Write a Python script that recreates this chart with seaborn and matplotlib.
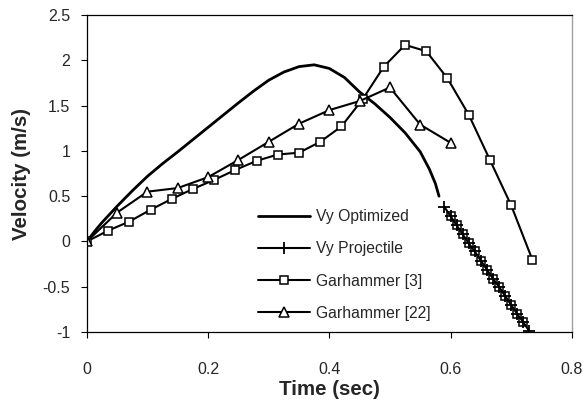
import numpy as np
import pandas as pd
import matplotlib
matplotlib.use('Agg')
import matplotlib.pyplot as plt
import seaborn as sns

# ---- data ----
t_opt = [0, 0.0125, 0.025, 0.0375, 0.05, 0.075, 0.1, 0.125, 0.15, 0.2, 0.25, 0.275,
         0.3, 0.325, 0.35, 0.375, 0.4, 0.425, 0.45, 0.475, 0.5, 0.525, 0.55,
         0.565, 0.575, 0.581]
v_opt = [0, 0.11, 0.21, 0.30, 0.39, 0.56, 0.72, 0.86, 0.99, 1.26, 1.53, 1.66,
         1.78, 1.87, 1.93, 1.95, 1.91, 1.81, 1.65, 1.52, 1.37, 1.20, 0.99,
         0.80, 0.64, 0.50]

t_proj = [0.59, 0.60, 0.61, 0.62, 0.63, 0.64, 0.65, 0.66, 0.67, 0.68, 0.69,
          0.70, 0.71, 0.72, 0.73]
v_proj = [0.38, 0.28, 0.18, 0.08, -0.02, -0.11, -0.21, -0.31, -0.41, -0.50,
          -0.60, -0.70, -0.80, -0.89, -0.99]

t_g3 = [0, 0.035, 0.07, 0.105, 0.14, 0.175, 0.21, 0.245, 0.28, 0.315, 0.35,
        0.385, 0.42, 0.455, 0.49, 0.525, 0.56, 0.595, 0.63, 0.665, 0.70, 0.735]
v_g3 = [0, 0.12, 0.22, 0.35, 0.47, 0.58, 0.68, 0.79, 0.89, 0.96, 0.98,
        1.10, 1.27, 1.57, 1.93, 2.17, 2.10, 1.80, 1.40, 0.90, 0.40, -0.20]

t_g22 = [0, 0.05, 0.1, 0.15, 0.2, 0.25, 0.3, 0.35, 0.4, 0.45, 0.5, 0.55, 0.6]
v_g22 = [0, 0.32, 0.55, 0.59, 0.71, 0.90, 1.10, 1.30, 1.45, 1.55, 1.70, 1.29, 1.09]

sns.set_style('white')
plt.rcParams['font.family'] = ['Liberation Sans', 'DejaVu Sans']

fig = plt.figure(figsize=(5.87, 4.05), dpi=100)
ax = fig.add_axes([0.148, 0.180, 0.826, 0.783])

kw = dict(ax=ax, sort=False, estimator=None, color='black')
sns.lineplot(x=t_opt, y=v_opt, linewidth=2.0, label='Vy Optimized', **kw)
sns.lineplot(x=t_proj, y=v_proj, linewidth=1.5, marker='+', markersize=9,
             markeredgewidth=1.3, markeredgecolor='black', label='Vy Projectile', **kw)
# hollow squares that sit on the projectile line in the original
ax.plot(t_proj[1:-1], v_proj[1:-1], linestyle='none', marker='s', markersize=5.5,
        markerfacecolor='none', markeredgecolor='black', markeredgewidth=1.1)
sns.lineplot(x=t_g3, y=v_g3, linewidth=1.5, marker='s', markersize=5.8,
             markerfacecolor='white', markeredgecolor='black', markeredgewidth=1.1,
             label='Garhammer [3]', **kw)
sns.lineplot(x=t_g22, y=v_g22, linewidth=1.5, marker='^', markersize=7.5,
             markerfacecolor='white', markeredgecolor='black', markeredgewidth=1.1,
             label='Garhammer [22]', **kw)

ax.set_xlim(0, 0.8)
ax.set_ylim(-1, 2.5)
ax.set_xticks([0, 0.2, 0.4, 0.6, 0.8])
ax.set_xticklabels(['0', '0.2', '0.4', '0.6', '0.8'])
ax.set_yticks([-1, -0.5, 0, 0.5, 1, 1.5, 2, 2.5])
ax.set_yticklabels(['-1', '-0.5', '0', '0.5', '1', '1.5', '2', '2.5'])
ax.tick_params(axis='both', direction='out', length=4, width=0.8, color='black',
               labelsize=11.5, bottom=True, left=True)
ax.tick_params(axis='x', pad=17.5)
ax.tick_params(axis='y', pad=8)

for s in ['left', 'bottom', 'top']:
    ax.spines[s].set_color('black')
    ax.spines[s].set_linewidth(0.9)
ax.spines['right'].set_color('#a0a0a0')
ax.spines['right'].set_linewidth(1.0)

ax.set_xlabel('Time (sec)', fontsize=14.8, fontweight='bold', labelpad=2)
ax.set_ylabel('Velocity (m/s)', fontsize=14.8, fontweight='bold', labelpad=8)

leg = ax.legend(loc='upper left', bbox_to_anchor=(0.34, 0.407), frameon=False,
                fontsize=11.3, handlelength=3.3, handletextpad=0.38,
                labelspacing=1.09, borderaxespad=0)

fig.savefig('out.png', dpi=100)
